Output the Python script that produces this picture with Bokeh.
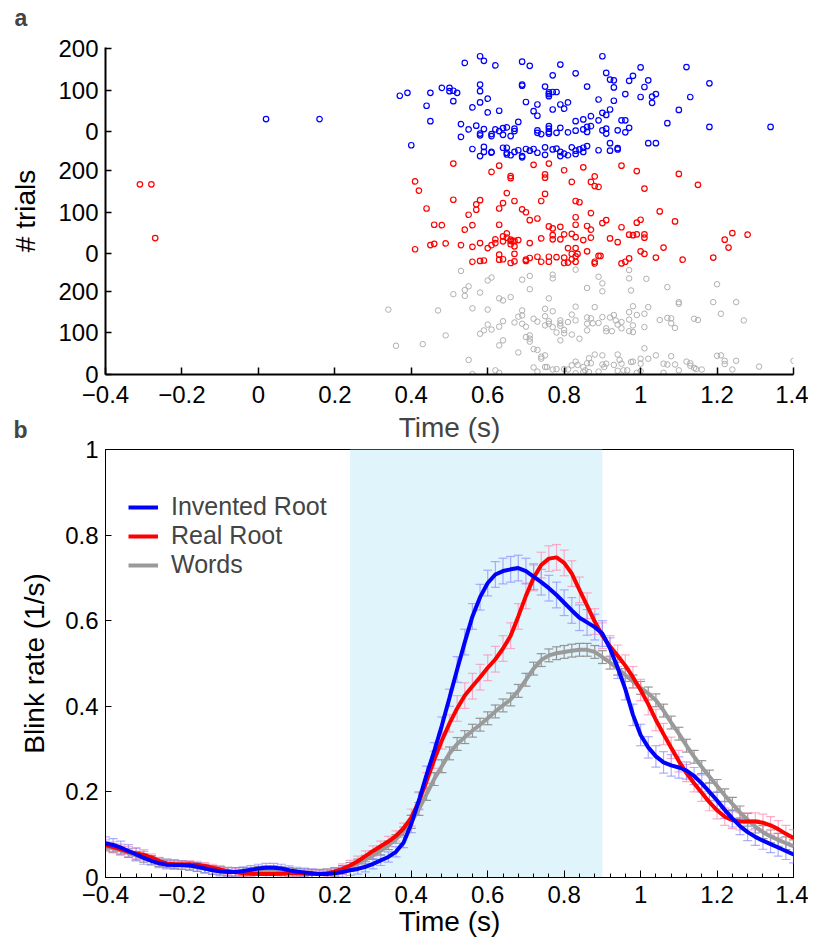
from bokeh.plotting import figure
from bokeh.layouts import column
from bokeh.models import FixedTicker, Title, Label, BoxAnnotation, Legend, LegendItem, Range1d
from bokeh.embed import file_html
from bokeh.resources import INLINE

FONT = "Liberation Sans"

# ---------------- Panel a: raster of blink times ----------------
GROUP_OFFSET_WORDS = 0
GROUP_OFFSET_REAL = 290
GROUP_OFFSET_INVENTED = 583
Y_TICK_LABELS_A = ["0", "100", "200"]

INV_X = [0.02, 0.16, 0.37, 0.39, 0.40, 0.44, 0.45, 0.45, 0.48, 0.50, 0.50, 0.51, 0.52, 0.51, 0.53, 0.53, 0.54, 0.55, 0.56, 0.56,
         0.57, 0.58, 0.58, 0.58, 0.59, 0.58, 0.60, 0.60, 0.58, 0.58, 0.59, 0.59, 0.59, 0.58, 0.61, 0.61, 0.61, 0.61, 0.62, 0.62,
         0.63, 0.63, 0.64, 0.64, 0.65, 0.66, 0.67, 0.67, 0.68, 0.64, 0.65, 0.65, 0.65, 0.66, 0.67, 0.68, 0.69, 0.69, 0.69, 0.69,
         0.69, 0.70, 0.71, 0.72, 0.73, 0.73, 0.70, 0.71, 0.72, 0.73, 0.73, 0.73, 0.74, 0.75, 0.75, 0.75, 0.76, 0.76, 0.76, 0.77,
         0.78, 0.76, 0.76, 0.76, 0.76, 0.77, 0.77, 0.77, 0.78, 0.79, 0.79, 0.79, 0.80, 0.81, 0.78, 0.79, 0.79, 0.80, 0.81, 0.81,
         0.82, 0.83, 0.83, 0.83, 0.83, 0.83, 0.84, 0.85, 0.85, 0.85, 0.86, 0.86, 0.86, 0.86, 0.85, 0.87, 0.87, 0.89, 0.89, 0.89,
         0.90, 0.90, 0.90, 0.91, 0.91, 0.91, 0.91, 0.92, 0.92, 0.92, 0.92, 0.93, 0.93, 0.93, 0.94, 0.94, 0.94, 0.95, 0.96, 0.96,
         0.96, 0.97, 0.97, 0.98, 1.00, 1.00, 1.01, 1.02, 1.02, 1.03, 1.03, 1.04, 1.04, 1.07, 1.10, 1.12, 1.13, 1.18, 1.18, 1.34]
INV_T = [31, 31, 87, 94, -32, 63, 94, 26, 106, 106, 98, 99, 94, 74, 19, -12, 166, 6, 59, -41,
         15, 98, 182, 114, 171, 71, 80, 47, -8, -4, 7, -36, -48, -58, -50, -48, -5, -10, 6, 160,
         51, 2, 9, -7, 11, -10, 2, 8, 24, -38, -38, -50, -54, -56, -48, -44, -58, -61, 111, 114,
         169, 72, 159, 50, 66, 39, -41, -45, -41, -50, 4, -2, -5, 109, -37, -55, 86, 91, 95, 96,
         96, 14, 8, 0, -4, 136, 54, -42, -40, 66, 162, 10, 56, 71, -2, -58, -48, -52, -1, -56,
         -37, 141, 3, 26, -53, -45, -42, -38, 30, 6, 12, 0, 109, -34, -48, 38, 14, -44, 28, 78,
         46, 182, 4, 8, 142, -4, 41, 126, -27, 54, -45, 75, 107, 124, -39, 4, -42, 28, 28, 91,
         -1, 123, 10, 135, 84, 155, 108, -27, 124, 85, 70, 91, -27, 21, 53, 156, 84, 117, 12, 12]

REAL_X = [-0.31, -0.28, -0.27, 0.51, 0.41, 0.42, 0.61, 0.63, 0.66, 0.66, 0.65, 0.72, 0.76, 0.75, 0.75, 0.75, 0.80, 0.82, 0.85, 0.88,
          0.87, 0.88, 0.89, 0.95, 0.99, 1.01, 1.10, 1.15, 0.51, 0.44, 0.46, 0.48, 0.41, 0.45, 0.46, 0.49, 0.53, 0.54, 0.55, 0.56,
          0.57, 0.57, 0.58, 0.56, 0.56, 0.58, 0.58, 0.59, 0.60, 0.61, 0.62, 0.62, 0.63, 0.63, 0.64, 0.63, 0.63, 0.64, 0.64, 0.64,
          0.65, 0.65, 0.66, 0.66, 0.66, 0.67, 0.665, 0.67, 0.68, 0.67, 0.67, 0.66, 0.67, 0.69, 0.70, 0.70, 0.70, 0.71, 0.71, 0.71,
          0.73, 0.73, 0.74, 0.74, 0.74, 0.76, 0.76, 0.76, 0.77, 0.77, 0.77, 0.78, 0.79, 0.79, 0.80, 0.80, 0.80, 0.81, 0.81, 0.82,
          0.82, 0.82, 0.83, 0.83, 0.83, 0.83, 0.835, 0.83, 0.83, 0.83, 0.84, 0.85, 0.86, 0.86, 0.87, 0.87, 0.87, 0.88, 0.89, 0.895,
          0.88, 0.90, 0.91, 0.92, 0.94, 0.95, 0.95, 0.96, 0.97, 0.97, 0.98, 0.99, 0.99, 1.00, 1.00, 1.01, 1.01, 1.01, 1.04, 1.05,
          1.06, 1.09, 1.11, 1.19, 1.22, 1.23, 1.24, 1.28]
REAL_T = [167, 167, 38, 217, 174, 152, 197, 212, 182, 187, 146, 214, 217, 191, 183, 144, 201, 173, 208, 186,
          173, 163, 161, 212, 199, 157, 192, 166, 130, 109, 70, 69, 11, 21, 24, 25, 21, 58, 94, 69,
          106, 119, 129, -19, 17, 26, -17, -16, 14, 21, 26, 35, 70, 109, 42, -2, -14, -13, 122, 30,
          49, 39, 31, 34, 23, 18, 30, 31, 33, 0, -18, -22, 127, 107, 100, -17, -14, -10, 81, 26,
          85, -7, 37, -19, 127, 66, -7, -19, 61, 45, 35, -8, 35, 65, 47, -9, -22, 14, -21, 48,
          0, -13, 88, 127, 70, 40, 0, -6, -19, 14, 124, 33, 67, 6, 98, 58, 39, -19, -5, -5,
          -23, 74, 81, 37, 28, 64, -23, -19, 46, -11, 45, 75, 47, 82, 6, 0, 47, 39, -9, 102,
          15, 78, -14, -9, 34, 15, 50, 46]

WORDS_X = [0.34, 0.36, 0.53, 0.43, 0.47, 0.49, 0.51, 0.54, 0.54, 0.55, 0.55, 0.56, 0.56, 0.58, 0.58, 0.59, 0.60, 0.60, 0.60, 0.61,
           0.61, 0.62, 0.63, 0.63, 0.63, 0.63, 0.64, 0.64, 0.64, 0.66, 0.67, 0.68, 0.68, 0.69, 0.69, 0.69, 0.69, 0.70, 0.70, 0.71,
           0.71, 0.71, 0.71, 0.71, 0.72, 0.72, 0.72, 0.73, 0.73, 0.74, 0.74, 0.73, 0.75, 0.75, 0.755, 0.75, 0.75, 0.76, 0.75, 0.76,
           0.76, 0.77, 0.77, 0.77, 0.77, 0.78, 0.77, 0.78, 0.79, 0.79, 0.79, 0.79, 0.80, 0.80, 0.80, 0.81, 0.81, 0.82, 0.82, 0.82,
           0.83, 0.83, 0.83, 0.83, 0.83, 0.835, 0.84, 0.85, 0.85, 0.855, 0.86, 0.86, 0.86, 0.86, 0.865, 0.86, 0.865, 0.87, 0.87, 0.875,
           0.88, 0.88, 0.89, 0.89, 0.89, 0.90, 0.90, 0.90, 0.90, 0.905, 0.90, 0.91, 0.91, 0.91, 0.92, 0.925, 0.93, 0.93, 0.935, 0.94,
           0.94, 0.94, 0.945, 0.95, 0.95, 0.95, 0.955, 0.97, 0.97, 0.97, 0.97, 0.97, 0.975, 0.975, 0.98, 0.98, 0.98, 0.965, 0.98, 0.99,
           0.99, 1.00, 1.00, 1.00, 1.01, 1.01, 1.01, 1.015, 1.02, 1.02, 1.04, 1.05, 1.06, 1.06, 1.07, 1.07, 1.07, 1.08, 1.08, 1.08,
           1.09, 1.09, 1.10, 1.10, 1.10, 1.12, 1.13, 1.13, 1.14, 1.14, 1.145, 1.15, 1.16, 1.19, 1.20, 1.21, 1.20, 1.21, 1.22, 1.22,
           1.25, 1.25, 1.24, 1.27, 1.31, 1.40]
WORDS_T = [156, 69, 249, 73, 154, 94, 193, 203, 189, 212, 35, 159, 1, 197, 98, 106, 156, 226, 120, 108,
           233, 10, 183, 70, 115, 4, 82, 178, 128, 186, 125, 53, 139, 142, 154, 228, 122, 90, 115, 237,
           205, 86, 94, 79, 61, 134, 17, 127, 59, 43, 38, 7, 46, 18, 18, 158, 140, 122, 118, 128,
           183, 231, 240, 114, 152, 101, 12, 13, 82, 123, 117, 130, 107, 99, 13, 12, 126, 96, 22, 144,
           130, 163, 31, 252, 3, 23, 86, 18, 6, 10, 106, 122, 137, 27, 6, 208, 39, 135, 27, 123,
           162, 48, 235, 7, 124, 200, 24, 138, 219, 18, 46, 111, 26, 104, 137, 104, 23, 143, 130, 48,
           9, 120, 35, 126, 111, 26, 10, 251, 231, 150, 132, 104, 202, 30, 164, 102, 118, 10, 31, 4,
           143, 8, 26, 38, 114, 146, 63, 230, 162, 38, 46, 131, 26, 4, 136, 24, 210, 44, 135, 123,
           112, 24, 170, 174, 10, 31, 27, 21, 16, 134, 13, 131, 12, 174, 217, 146, 45, 46, 25, 33,
           174, 33, 12, 130, 19, 33]

# ---------------- Panel b: blink rate ----------------
TIME = [round(-0.40 + 0.02 * i, 2) for i in range(91)]

RATE_INVENTED = [0.080, 0.076, 0.070, 0.062, 0.054, 0.046, 0.039, 0.033, 0.030, 0.029,
                 0.029, 0.028, 0.025, 0.021, 0.017, 0.014, 0.013, 0.013, 0.015, 0.018,
                 0.021, 0.023, 0.023, 0.021, 0.017, 0.014, 0.012, 0.010, 0.008, 0.008,
                 0.010, 0.013, 0.017, 0.020, 0.025, 0.032, 0.040, 0.048, 0.060, 0.082,
                 0.125, 0.180, 0.240, 0.295, 0.355, 0.420, 0.486, 0.550, 0.610, 0.655,
                 0.688, 0.708, 0.716, 0.720, 0.723, 0.716, 0.703, 0.690, 0.676, 0.660,
                 0.642, 0.624, 0.607, 0.596, 0.585, 0.570, 0.535, 0.490, 0.440, 0.380,
                 0.333, 0.304, 0.283, 0.269, 0.262, 0.257, 0.250, 0.237, 0.220, 0.200,
                 0.180, 0.158, 0.138, 0.120, 0.106, 0.095, 0.086, 0.078, 0.070, 0.062,
                 0.054]
RATE_REAL = [0.076, 0.071, 0.066, 0.060, 0.056, 0.053, 0.047, 0.039, 0.033, 0.031,
             0.031, 0.031, 0.030, 0.027, 0.023, 0.019, 0.015, 0.012, 0.010, 0.009,
             0.008, 0.008, 0.008, 0.009, 0.010, 0.010, 0.009, 0.008, 0.008, 0.010,
             0.014, 0.020, 0.028, 0.038, 0.050, 0.062, 0.073, 0.084, 0.097, 0.115,
             0.140, 0.178, 0.225, 0.275, 0.320, 0.360, 0.395, 0.425, 0.447, 0.468,
             0.490, 0.510, 0.535, 0.565, 0.610, 0.658, 0.700, 0.730, 0.745, 0.748,
             0.735, 0.710, 0.672, 0.635, 0.598, 0.565, 0.540, 0.518, 0.495, 0.468,
             0.438, 0.405, 0.368, 0.335, 0.303, 0.272, 0.244, 0.220, 0.198, 0.176,
             0.157, 0.142, 0.134, 0.131, 0.131, 0.131, 0.128, 0.122, 0.113, 0.102,
             0.092]
RATE_WORDS = [0.072, 0.068, 0.063, 0.057, 0.051, 0.046, 0.041, 0.036, 0.033, 0.031,
              0.029, 0.027, 0.024, 0.021, 0.018, 0.016, 0.014, 0.013, 0.013, 0.014,
              0.016, 0.017, 0.017, 0.015, 0.013, 0.011, 0.010, 0.009, 0.009, 0.010,
              0.013, 0.018, 0.025, 0.033, 0.042, 0.052, 0.063, 0.075, 0.090, 0.108,
              0.130, 0.160, 0.195, 0.230, 0.260, 0.290, 0.312, 0.328, 0.343, 0.357,
              0.372, 0.388, 0.402, 0.416, 0.436, 0.462, 0.488, 0.508, 0.519, 0.524,
              0.527, 0.530, 0.532, 0.532, 0.527, 0.515, 0.502, 0.488, 0.473, 0.458,
              0.443, 0.430, 0.414, 0.390, 0.362, 0.336, 0.308, 0.282, 0.258, 0.236,
              0.214, 0.192, 0.172, 0.152, 0.135, 0.119, 0.106, 0.096, 0.088, 0.080,
              0.073]
ERR_INVENTED = [0.015, 0.015, 0.015, 0.015, 0.015, 0.015, 0.010, 0.010, 0.010, 0.010,
                0.010, 0.010, 0.010, 0.010, 0.010, 0.010, 0.010, 0.010, 0.010, 0.010,
                0.010, 0.010, 0.010, 0.010, 0.010, 0.010, 0.010, 0.010, 0.010, 0.010,
                0.010, 0.012, 0.012, 0.012, 0.012, 0.012, 0.012, 0.012, 0.012, 0.012,
                0.020, 0.020, 0.020, 0.020, 0.020, 0.020, 0.030, 0.030, 0.030, 0.030,
                0.030, 0.030, 0.030, 0.030, 0.030, 0.030, 0.030, 0.030, 0.030, 0.030,
                0.030, 0.030, 0.030, 0.030, 0.030, 0.030, 0.025, 0.025, 0.025, 0.025,
                0.025, 0.025, 0.025, 0.025, 0.025, 0.025, 0.020, 0.020, 0.020, 0.020,
                0.020, 0.020, 0.020, 0.020, 0.020, 0.020, 0.020, 0.020, 0.020, 0.020,
                0.020]
ERR_REAL = [0.012, 0.012, 0.012, 0.012, 0.012, 0.012, 0.008, 0.008, 0.008, 0.008,
            0.008, 0.008, 0.008, 0.008, 0.008, 0.008, 0.008, 0.008, 0.008, 0.008,
            0.008, 0.008, 0.008, 0.008, 0.008, 0.008, 0.008, 0.008, 0.008, 0.008,
            0.008, 0.012, 0.012, 0.012, 0.012, 0.012, 0.012, 0.012, 0.012, 0.012,
            0.020, 0.020, 0.020, 0.020, 0.020, 0.020, 0.030, 0.030, 0.030, 0.030,
            0.030, 0.030, 0.030, 0.030, 0.030, 0.030, 0.030, 0.030, 0.030, 0.030,
            0.030, 0.030, 0.030, 0.030, 0.030, 0.030, 0.025, 0.025, 0.025, 0.025,
            0.025, 0.025, 0.025, 0.025, 0.025, 0.025, 0.020, 0.020, 0.020, 0.020,
            0.020, 0.020, 0.020, 0.020, 0.020, 0.020, 0.020, 0.020, 0.020, 0.020,
            0.020]
ERR_WORDS = [0.010, 0.010, 0.010, 0.010, 0.010, 0.010, 0.010, 0.010, 0.010, 0.010,
             0.010, 0.010, 0.010, 0.010, 0.010, 0.010, 0.010, 0.010, 0.010, 0.010,
             0.010, 0.010, 0.010, 0.010, 0.010, 0.010, 0.010, 0.010, 0.010, 0.010,
             0.010, 0.010, 0.010, 0.010, 0.010, 0.010, 0.010, 0.010, 0.010, 0.010,
             0.015, 0.015, 0.015, 0.015, 0.015, 0.015, 0.015, 0.015, 0.015, 0.015,
             0.015, 0.015, 0.015, 0.015, 0.015, 0.015, 0.015, 0.015, 0.015, 0.015,
             0.015, 0.015, 0.015, 0.015, 0.015, 0.015, 0.015, 0.015, 0.015, 0.015,
             0.015, 0.015, 0.015, 0.015, 0.015, 0.015, 0.015, 0.015, 0.015, 0.015,
             0.015, 0.015, 0.015, 0.015, 0.015, 0.015, 0.015, 0.015, 0.015, 0.015,
             0.015]

SERIES_NAMES = ["Invented Root", "Real Root", "Words"]
STIM_WINDOW = (0.24, 0.90)

X_TICKS = [-0.4, -0.2, 0, 0.2, 0.4, 0.6, 0.8, 1, 1.2, 1.4]
X_TICK_LABELS = ["\u22120.4", "\u22120.2", "0", "0.2", "0.4", "0.6", "0.8", "1", "1.2", "1.4"]
Y_TICKS_B = [0, 0.2, 0.4, 0.6, 0.8, 1]
Y_TICK_LABELS_B = ["0", "0.2", "0.4", "0.6", "0.8", "1"]

BLUE = "#0000ff"
RED = "#ff0000"
GRAY_LINE = "#9a9a9a"


def style_axis(ax):
    ax.major_label_text_font = FONT
    ax.major_label_text_font_size = "24px"
    ax.major_label_text_color = "black"
    ax.axis_label_text_font = FONT
    ax.axis_label_text_font_size = "28px"
    ax.axis_label_text_font_style = "normal"
    ax.axis_label_text_color = "black"
    ax.axis_line_color = "black"
    ax.major_tick_line_color = "black"
    ax.major_tick_out = 0
    ax.major_tick_in = 6
    ax.minor_tick_out = 0


def panel_letter(text, x, y):
    return Label(x=x, y=y, x_units="screen", y_units="screen", text=text,
                 text_font=FONT, text_font_style="bold", text_font_size="23px",
                 text_align="left", text_baseline="alphabetic")


# ---------- figure a ----------
pa = figure(frame_width=688, frame_height=327, x_range=Range1d(-0.4, 1.4), y_range=Range1d(0, 786),
            output_backend="svg", toolbar_location=None,
            min_border_left=105, min_border_right=15, min_border_top=47, min_border_bottom=32)
pa.grid.visible = False
pa.outline_line_color = None

pa.scatter(WORDS_X, [GROUP_OFFSET_WORDS + t for t in WORDS_T], marker="circle", size=5.5,
           fill_color=None, line_color="#b0b0b0", line_width=1)
pa.scatter(REAL_X, [GROUP_OFFSET_REAL + t for t in REAL_T], marker="circle", size=5.5,
           fill_color=None, line_color=RED, line_width=1.2)
pa.scatter(INV_X, [GROUP_OFFSET_INVENTED + t for t in INV_T], marker="circle", size=5.5,
           fill_color=None, line_color=BLUE, line_width=1.2)

ya_ticks = []
ya_labels = {}
for off in (GROUP_OFFSET_WORDS, GROUP_OFFSET_REAL, GROUP_OFFSET_INVENTED):
    for lab in Y_TICK_LABELS_A:
        ya_ticks.append(off + int(lab))
        ya_labels[off + int(lab)] = lab

pa.xaxis.ticker = FixedTicker(ticks=X_TICKS, minor_ticks=[])
pa.xaxis.major_label_overrides = dict(zip(X_TICKS, X_TICK_LABELS))
pa.yaxis.ticker = FixedTicker(ticks=ya_ticks, minor_ticks=[])
pa.yaxis.major_label_overrides = ya_labels
pa.yaxis.axis_label = "# trials"
for ax in (pa.xaxis[0], pa.yaxis[0]):
    style_axis(ax)
    ax.axis_line_width = 2
    ax.major_tick_line_width = 1.5
pa.xaxis.major_tick_in = 7
pa.xaxis.major_label_standoff = 11
pa.yaxis.major_label_standoff = 7
pa.yaxis.axis_label_standoff = 14

# panel letter "a" lives in the (unclipped) right side panel, shifted back to the top-left corner
pa.add_layout(panel_letter("a", -779, 357), "right")

# ---------- figure b ----------
pb = figure(frame_width=688, frame_height=428, x_range=Range1d(-0.4, 1.4), y_range=Range1d(0, 1),
            output_backend="svg", toolbar_location=None,
            min_border_left=105, min_border_right=15, min_border_top=0, min_border_bottom=0)
pb.grid.visible = False
pb.outline_line_color = "black"
pb.outline_line_width = 1

# x-axis title of panel a, drawn at the top of figure b
pb.add_layout(Title(text="Time (s)", align="center", standoff=10, vertical_align="top",
                    text_font=FONT, text_font_style="normal", text_font_size="28px"), "above")
pb.add_layout(panel_letter("b", -780, 448), "right")

pb.add_layout(BoxAnnotation(left=STIM_WINDOW[0], right=STIM_WINDOW[1], fill_color="#e0f4fb",
                            fill_alpha=1.0, line_color=None, level="underlay"))

series = [
    (RATE_WORDS, ERR_WORDS, GRAY_LINE, "#8c8c8c", 0.9),
    (RATE_REAL, ERR_REAL, RED, "#ff8cb4", 0.7),
    (RATE_INVENTED, ERR_INVENTED, BLUE, "#8c8cff", 0.7),
]
for vals, errs, lc, ec, ea in series:
    lo = [v - e for v, e in zip(vals, errs)]
    hi = [v + e for v, e in zip(vals, errs)]
    pb.segment(x0=TIME, y0=lo, x1=TIME, y1=hi, line_color=ec, line_alpha=ea, line_width=1.2)
    pb.scatter(TIME, lo, marker="dash", size=9, line_color=ec, line_alpha=ea, line_width=1.2)
    pb.scatter(TIME, hi, marker="dash", size=9, line_color=ec, line_alpha=ea, line_width=1.2)

r_words = pb.line(TIME, RATE_WORDS, line_color=GRAY_LINE, line_width=4)
r_real = pb.line(TIME, RATE_REAL, line_color=RED, line_width=4)
r_inv = pb.line(TIME, RATE_INVENTED, line_color=BLUE, line_width=4)

legend = Legend(items=[LegendItem(label=SERIES_NAMES[0], renderers=[r_inv]),
                       LegendItem(label=SERIES_NAMES[1], renderers=[r_real]),
                       LegendItem(label=SERIES_NAMES[2], renderers=[r_words])],
                location=(23, 298))
legend.border_line_color = None
legend.background_fill_alpha = 0
legend.label_text_font = FONT
legend.label_text_font_size = "25px"
legend.glyph_width = 30
legend.glyph_height = 20
legend.label_standoff = 13
legend.spacing = 0
legend.padding = 10
legend.margin = 0
pb.add_layout(legend)

minor_b = [round(-0.4 + 0.04 * i, 2) for i in range(46)]
pb.xaxis.ticker = FixedTicker(ticks=X_TICKS, minor_ticks=minor_b)
pb.xaxis.major_label_overrides = dict(zip(X_TICKS, X_TICK_LABELS))
pb.yaxis.ticker = FixedTicker(ticks=Y_TICKS_B, minor_ticks=[])
pb.yaxis.major_label_overrides = dict(zip(Y_TICKS_B, Y_TICK_LABELS_B))
pb.xaxis.axis_label = "Time (s)"
pb.yaxis.axis_label = "Blink rate (1/s)"
for ax in (pb.xaxis[0], pb.yaxis[0]):
    style_axis(ax)
pb.xaxis.major_tick_in = 7
pb.xaxis.minor_tick_in = 4
pb.xaxis.minor_tick_line_color = "black"
pb.xaxis.major_label_standoff = 8
pb.yaxis.major_label_standoff = 7
pb.xaxis.axis_label_standoff = 0
pb.yaxis.axis_label_standoff = 12

layout = column(pa, pb, spacing=0)
open("out.html", "w").write(file_html(layout, INLINE))
